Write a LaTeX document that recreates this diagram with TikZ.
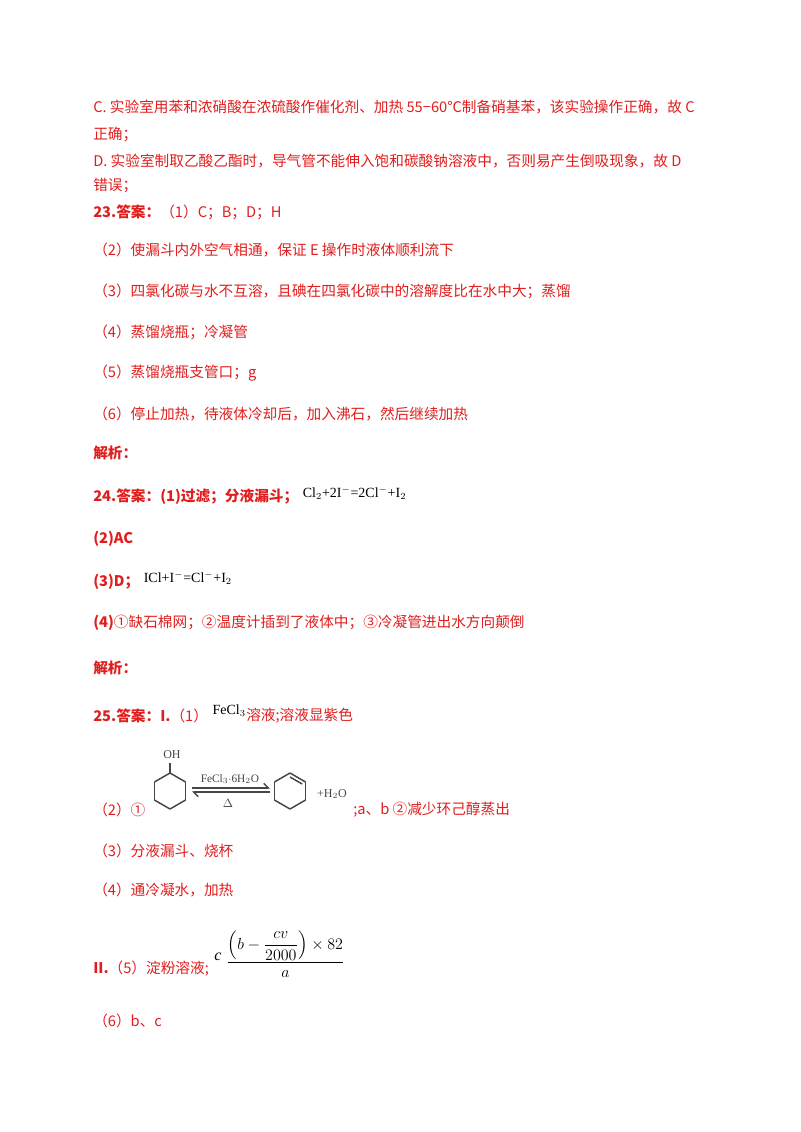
\documentclass[tikz,border=0pt]{standalone}
\usepackage{fontspec}
\setmainfont{Liberation Serif}
\newfontfamily\cjk{Noto Sans CJK SC}
\usepackage{amsmath}
\usetikzlibrary{arrows.meta}
\definecolor{ans}{RGB}{225,30,30}
\definecolor{img}{RGB}{70,70,70}
\begin{document}
\begin{tikzpicture}[x=0.75pt,y=-0.75pt,
  t/.style={anchor=west,inner sep=0,text=ans,font=\fontsize{11}{13}\selectfont\cjk},
  f/.style={anchor=west,inner sep=0,font=\fontsize{10.5}{12}\selectfont},
  bond/.style={img,line width=1.1pt}]
\useasboundingbox[fill=white] (0,0) rectangle (800,1132);
\node[t] (l1) at (93,107) {C. 实验室用苯和浓硝酸在浓硫酸作催化剂、加热 55−60℃制备硝基苯，该实验操作正确，故 C};
\node[t] (l2) at (93,134) {正确；};
\node[t] (l3) at (93,161) {D. 实验室制取乙酸乙酯时，导气管不能伸入饱和碳酸钠溶液中，否则易产生倒吸现象，故 D};
\node[t] (l4) at (93,186) {错误；};
\node[t] (l5) at (93,212) {\bfseries 23.答案：\mdseries （1）C；B；D；H};
\node[t] (l6) at (93,250) {（2）使漏斗内外空气相通，保证 E 操作时液体顺利流下};
\node[t] (l7) at (93,291) {（3）四氯化碳与水不互溶，且碘在四氯化碳中的溶解度比在水中大；蒸馏};
\node[t] (l8) at (93,332) {（4）蒸馏烧瓶；冷凝管};
\node[t] (l9) at (93,373) {（5）蒸馏烧瓶支管口；g};
\node[t] (l10) at (93,414) {（6）停止加热，待液体冷却后，加入沸石，然后继续加热};
\node[t] (l11) at (93,453) {\bfseries 解析：};
\node[t] (l12) at (93,497) {\bfseries 24.答案：(1)过滤；分液漏斗；};
\node[f] (e1) at ([xshift=3pt,yshift=3pt]l12.east) {Cl$_2$+2I$^-$=2Cl$^-$+I$_2$};
\node[t] (l13) at (93,539) {\bfseries (2)AC};
\node[t] (l14) at (93,582) {\bfseries (3)D；};
\node[f] (e2) at ([xshift=3pt,yshift=3pt]l14.east) {ICl+I$^-$=Cl$^-$+I$_2$};
\node[t] (l15) at (93,623) {\bfseries (4)\mdseries ①缺石棉网；②温度计插到了液体中；③冷凝管进出水方向颠倒};
\node[t] (l16) at (93,668) {\bfseries 解析：};
\node[t] (l17) at (93,716) {\bfseries 25.答案：I.\mdseries （1）};
\node[f] (e3) at ([xshift=3pt,yshift=4pt]l17.east) {FeCl$_3$};
\node[t] (l17b) at ([yshift=-4pt]e3.east) {溶液;溶液显紫色};
\node[t] (l18) at (93,810) {（2）①};
% reaction
\foreach \a in {30,90,...,330} \draw[bond] ({170+18*cos(\a)},{791-18*sin(\a)}) -- ({170+18*cos(\a+60)},{791-18*sin(\a+60)});
\draw[bond] (170,773) -- (170,763);
\node[font=\fontsize{9}{10}\selectfont,text=img,inner sep=0] (oh) at (172,755) {OH};
\node[font=\fontsize{8.5}{10}\selectfont,text=img,inner sep=0] (cat) at (230,779) {FeCl$_3$$\cdot$6H$_2$O};
\node[font=\fontsize{9}{10}\selectfont,text=img,inner sep=0] (del) at (228,803) {$\Delta$};
\coordinate (a1) at (192,788); \coordinate (a2) at (270,788);
\coordinate (b1) at (192,792); \coordinate (b2) at (270,792);
\draw[img,line width=1pt,-{Straight Barb[left]}] (a1) -- (a2);
\draw[img,line width=1pt,-{Straight Barb[left]}] (b2) -- (b1);
\foreach \a in {30,90,...,330} \draw[bond] ({290+18*cos(\a)},{791-18*sin(\a)}) -- ({290+18*cos(\a+60)},{791-18*sin(\a+60)});
\draw[bond] ({290+14*cos(30)},{791-14*sin(30)}) -- ({290+14*cos(90)},{791-14*sin(90)});
\node[font=\fontsize{9}{10}\selectfont,text=img,inner sep=0] (h2o) at (332,794) {+H$_2$O};
\node[t] (l18b) at (353,810) {;a、b ②减少环己醇蒸出};
\node[t] (l19) at (93,851) {（3）分液漏斗、烧杯};
\node[t] (l20) at (93,890) {（4）通冷凝水，加热};
\node[t] (l21) at (93,969) {\bfseries II.\mdseries （5）淀粉溶液;};
\node[f,font=\fontsize{12}{14}\selectfont\itshape] (c) at (214,957) {c};
\node[f,font=\fontsize{12}{14}\selectfont] (frac) at (226,954) {$\dfrac{\left(b-\dfrac{cv}{2000}\right)\times 82}{a}$};
\node[t] (l22) at (93,1021) {（6）b、c};
\end{tikzpicture}
\end{document}
